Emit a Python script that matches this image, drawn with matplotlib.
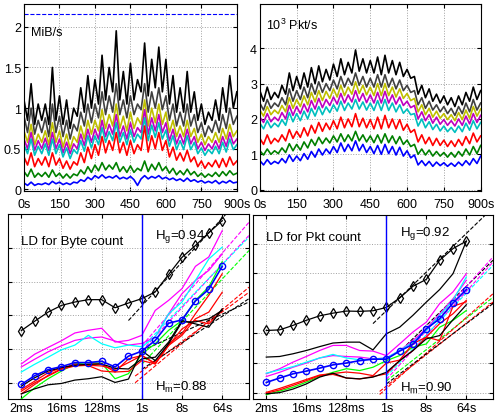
import matplotlib
matplotlib.use("Agg")
import matplotlib.pyplot as plt
import numpy as np

plt.rcParams['font.family'] = ['Liberation Sans', 'DejaVu Sans']
plt.rcParams['mathtext.fontset'] = 'custom'
plt.rcParams['mathtext.rm'] = 'Liberation Sans'
plt.rcParams['mathtext.it'] = 'Liberation Sans:italic'

# ---- time series, one sample every 15 s ----
t = list(range(0, 901, 15))

# MiB/s
black_b = [1.10, 0.85, 1.30, 0.80, 1.05, 0.85, 1.05, 0.80, 1.50, 0.85,
           1.15, 0.80, 1.10, 0.75, 1.00, 0.90, 1.25, 0.95, 1.40, 1.00,
           1.35, 1.05, 1.65, 1.10, 1.50, 1.20, 1.95, 1.10, 1.45, 1.05,
           1.55, 1.10, 1.35, 1.20, 1.80, 1.15, 1.60, 1.25, 1.75, 1.20,
           1.60, 1.05, 1.40, 0.95, 1.25, 0.95, 1.45, 0.95, 1.20, 0.85,
           1.05, 0.80, 0.95, 0.85, 1.10, 0.85, 1.25, 0.95, 1.40, 1.00,
           1.20]
gray_b = [0.90, 0.70, 1.00, 0.68, 0.85, 0.70, 0.88, 0.65, 1.05, 0.70,
          0.90, 0.65, 0.85, 0.62, 0.80, 0.72, 0.95, 0.78, 1.05, 0.82,
          1.05, 0.88, 1.20, 0.92, 1.15, 0.95, 1.30, 0.92, 1.10, 0.88,
          1.15, 0.92, 1.05, 0.98, 1.30, 0.95, 1.20, 1.00, 1.25, 0.98,
          1.15, 0.85, 1.05, 0.78, 0.95, 0.78, 1.05, 0.78, 0.92, 0.70,
          0.82, 0.65, 0.78, 0.70, 0.85, 0.70, 0.92, 0.75, 1.00, 0.80,
          0.90]
yellow_b = [0.72, 0.58, 0.80, 0.55, 0.68, 0.58, 0.72, 0.55, 0.82, 0.58,
            0.72, 0.52, 0.68, 0.50, 0.65, 0.58, 0.78, 0.62, 0.85, 0.68,
            0.85, 0.72, 0.98, 0.75, 0.92, 0.78, 1.05, 0.75, 0.90, 0.72,
            0.95, 0.75, 0.88, 0.80, 1.10, 0.78, 1.00, 0.82, 1.05, 0.80,
            0.95, 0.70, 0.85, 0.65, 0.78, 0.65, 0.85, 0.65, 0.75, 0.58,
            0.68, 0.55, 0.65, 0.58, 0.70, 0.58, 0.75, 0.62, 0.80, 0.65,
            0.72]
magenta_b = [0.62, 0.50, 0.70, 0.48, 0.60, 0.50, 0.63, 0.48, 0.70, 0.50,
             0.62, 0.45, 0.58, 0.44, 0.56, 0.50, 0.68, 0.54, 0.74, 0.58,
             0.74, 0.62, 0.85, 0.65, 0.80, 0.68, 0.92, 0.65, 0.78, 0.62,
             0.82, 0.65, 0.76, 0.70, 0.98, 0.68, 0.88, 0.72, 0.92, 0.70,
             0.82, 0.60, 0.74, 0.56, 0.68, 0.56, 0.74, 0.56, 0.65, 0.50,
             0.58, 0.48, 0.56, 0.50, 0.60, 0.50, 0.65, 0.53, 0.70, 0.56,
             0.62]
cyan_b = [0.55, 0.44, 0.62, 0.42, 0.53, 0.44, 0.56, 0.42, 0.62, 0.44,
          0.55, 0.40, 0.51, 0.38, 0.49, 0.44, 0.60, 0.47, 0.66, 0.51,
          0.66, 0.55, 0.76, 0.58, 0.71, 0.60, 0.82, 0.58, 0.70, 0.55,
          0.73, 0.58, 0.68, 0.62, 0.88, 0.60, 0.79, 0.64, 0.82, 0.62,
          0.73, 0.53, 0.66, 0.49, 0.60, 0.49, 0.66, 0.49, 0.58, 0.44,
          0.51, 0.42, 0.49, 0.44, 0.53, 0.44, 0.58, 0.46, 0.62, 0.49,
          0.55]
red_b = [0.40, 0.30, 0.45, 0.28, 0.38, 0.30, 0.40, 0.28, 0.45, 0.30,
         0.38, 0.26, 0.35, 0.25, 0.34, 0.30, 0.45, 0.33, 0.52, 0.38,
         0.55, 0.42, 0.65, 0.45, 0.60, 0.48, 0.70, 0.45, 0.58, 0.42,
         0.60, 0.44, 0.55, 0.48, 0.78, 0.46, 0.66, 0.50, 0.70, 0.48,
         0.60, 0.40, 0.52, 0.36, 0.45, 0.35, 0.48, 0.34, 0.40, 0.28,
         0.35, 0.26, 0.33, 0.28, 0.36, 0.27, 0.38, 0.28, 0.40, 0.30,
         0.35]
green_b = [0.22, 0.16, 0.25, 0.15, 0.20, 0.16, 0.21, 0.15, 0.24, 0.16,
           0.20, 0.14, 0.19, 0.14, 0.19, 0.17, 0.24, 0.19, 0.28, 0.21,
           0.30, 0.23, 0.33, 0.24, 0.30, 0.25, 0.33, 0.22, 0.28, 0.21,
           0.29, 0.21, 0.26, 0.23, 0.35, 0.22, 0.31, 0.24, 0.33, 0.23,
           0.28, 0.20, 0.26, 0.18, 0.23, 0.18, 0.25, 0.18, 0.22, 0.16,
           0.20, 0.15, 0.19, 0.16, 0.21, 0.16, 0.22, 0.17, 0.23, 0.18,
           0.20]
blue_b = [0.08, 0.05, 0.09, 0.05, 0.07, 0.06, 0.08, 0.06, 0.10, 0.07,
          0.09, 0.06, 0.08, 0.06, 0.09, 0.08, 0.12, 0.10, 0.15, 0.12,
          0.17, 0.14, 0.18, 0.14, 0.16, 0.14, 0.17, 0.13, 0.15, 0.13,
          0.16, 0.12, 0.05, 0.13, 0.17, 0.13, 0.16, 0.14, 0.17, 0.13,
          0.15, 0.12, 0.14, 0.11, 0.13, 0.10, 0.14, 0.10, 0.12, 0.09,
          0.11, 0.08, 0.10, 0.08, 0.11, 0.07, 0.10, 0.08, 0.11, 0.08,
          0.09]
capacity_b = 2.156

# 10^3 Pkt/s
black_p = [2.80, 2.50, 2.90, 2.55, 2.75, 2.60, 2.95, 2.70, 3.30, 2.80,
           3.20, 2.85, 3.30, 2.90, 3.45, 3.00, 3.50, 3.05, 3.40, 3.10,
           3.55, 3.20, 3.70, 3.25, 3.60, 3.30, 3.95, 3.35, 3.70, 3.30,
           3.65, 3.30, 3.75, 3.25, 3.80, 3.30, 3.65, 3.25, 3.60, 3.20,
           3.40, 3.15, 3.20, 2.70, 2.95, 2.60, 2.85, 2.50, 2.70, 2.45,
           2.65, 2.40, 2.60, 2.35, 2.65, 2.40, 2.75, 2.50, 2.90, 2.55,
           2.80]
gray_p = [2.45, 2.25, 2.55, 2.30, 2.45, 2.35, 2.60, 2.40, 2.85, 2.50,
          2.80, 2.55, 2.90, 2.60, 3.00, 2.70, 3.05, 2.75, 3.00, 2.80,
          3.10, 2.85, 3.20, 2.90, 3.15, 2.95, 3.30, 2.95, 3.20, 2.90,
          3.15, 2.90, 3.25, 2.90, 3.25, 2.90, 3.15, 2.85, 3.10, 2.80,
          2.95, 2.75, 2.80, 2.40, 2.60, 2.30, 2.50, 2.25, 2.40, 2.20,
          2.35, 2.15, 2.30, 2.10, 2.35, 2.15, 2.45, 2.20, 2.55, 2.25,
          2.45]
yellow_p = [2.25, 2.08, 2.35, 2.12, 2.25, 2.15, 2.38, 2.20, 2.60, 2.30,
            2.55, 2.35, 2.65, 2.40, 2.75, 2.48, 2.80, 2.52, 2.78, 2.58,
            2.85, 2.62, 2.95, 2.66, 2.90, 2.70, 3.05, 2.72, 2.95, 2.68,
            2.90, 2.66, 3.00, 2.66, 3.00, 2.66, 2.90, 2.62, 2.85, 2.58,
            2.72, 2.52, 2.58, 2.20, 2.40, 2.12, 2.30, 2.05, 2.22, 2.02,
            2.15, 1.98, 2.12, 1.95, 2.18, 1.98, 2.25, 2.02, 2.35, 2.08,
            2.28]
magenta_p = [2.05, 1.90, 2.15, 1.92, 2.05, 1.95, 2.18, 2.00, 2.38, 2.10,
             2.35, 2.15, 2.42, 2.20, 2.52, 2.28, 2.58, 2.32, 2.55, 2.38,
             2.62, 2.42, 2.72, 2.45, 2.68, 2.48, 2.80, 2.50, 2.72, 2.46,
             2.68, 2.45, 2.75, 2.45, 2.78, 2.45, 2.68, 2.42, 2.62, 2.38,
             2.50, 2.32, 2.38, 2.00, 2.20, 1.95, 2.12, 1.88, 2.05, 1.85,
             1.98, 1.82, 1.95, 1.80, 2.00, 1.82, 2.08, 1.86, 2.15, 1.90,
             2.10]
cyan_p = [1.88, 1.72, 1.95, 1.75, 1.88, 1.78, 1.98, 1.82, 2.18, 1.92,
          2.15, 1.95, 2.22, 2.00, 2.30, 2.08, 2.35, 2.12, 2.34, 2.18,
          2.40, 2.22, 2.50, 2.24, 2.45, 2.28, 2.55, 2.28, 2.48, 2.25,
          2.45, 2.24, 2.52, 2.24, 2.55, 2.24, 2.45, 2.20, 2.40, 2.16,
          2.28, 2.12, 2.15, 1.80, 2.00, 1.75, 1.92, 1.70, 1.85, 1.66,
          1.80, 1.64, 1.76, 1.62, 1.80, 1.64, 1.88, 1.68, 1.95, 1.72,
          1.90]
red_p = [1.45, 1.28, 1.55, 1.30, 1.45, 1.35, 1.55, 1.38, 1.70, 1.45,
         1.65, 1.48, 1.75, 1.52, 1.82, 1.60, 1.90, 1.65, 1.88, 1.70,
         1.95, 1.72, 2.05, 1.75, 2.00, 1.78, 2.15, 1.78, 2.02, 1.75,
         1.98, 1.72, 2.05, 1.72, 2.10, 1.75, 2.00, 1.72, 1.98, 1.68,
         1.85, 1.62, 1.70, 1.35, 1.55, 1.30, 1.48, 1.25, 1.45, 1.25,
         1.40, 1.22, 1.38, 1.22, 1.42, 1.25, 1.50, 1.30, 1.60, 1.35,
         1.52]
green_p = [1.10, 0.98, 1.15, 1.00, 1.10, 1.02, 1.18, 1.05, 1.30, 1.10,
           1.28, 1.12, 1.35, 1.18, 1.42, 1.25, 1.48, 1.30, 1.46, 1.32,
           1.52, 1.35, 1.58, 1.36, 1.55, 1.38, 1.65, 1.38, 1.55, 1.35,
           1.52, 1.33, 1.55, 1.32, 1.58, 1.33, 1.52, 1.30, 1.50, 1.28,
           1.40, 1.22, 1.28, 1.00, 1.15, 0.98, 1.12, 0.95, 1.08, 0.95,
           1.05, 0.92, 1.05, 0.92, 1.08, 0.95, 1.15, 0.98, 1.22, 1.02,
           1.25]
blue_p = [0.82, 0.70, 0.85, 0.72, 0.80, 0.74, 0.88, 0.76, 0.98, 0.80,
          0.95, 0.82, 1.02, 0.86, 1.08, 0.92, 1.15, 0.98, 1.15, 1.02,
          1.22, 1.05, 1.32, 1.08, 1.28, 1.10, 1.38, 1.10, 1.28, 1.05,
          1.22, 1.02, 1.25, 1.00, 1.28, 1.02, 1.22, 0.98, 1.20, 0.95,
          1.10, 0.90, 0.98, 0.70, 0.82, 0.68, 0.80, 0.66, 0.78, 0.68,
          0.76, 0.66, 0.75, 0.66, 0.78, 0.68, 0.82, 0.70, 0.88, 0.74,
          0.95]

ts_colors = ['#000000', '#404040', '#bfbf00', '#bf00bf', '#00bfbf', '#ff0000', '#008000', '#0000ff']

# ---- logscale diagrams, octave j = 1 (2ms) .. 16 (64s) ----
octaves = list(range(1, 17))
oct_ticks = [1, 4, 7, 10, 13, 16]
oct_labels = ['2ms', '16ms', '128ms', '1s', '8s', '64s']

ld_b_global = [2.55, 2.83, 3.10, 3.30, 3.40, 3.47, 3.47, 3.23, 3.37, 3.50, 3.70, 4.22, 4.73, 5.08, 5.46, 5.82]
ld_b_mean = [0.95, 1.21, 1.39, 1.48, 1.60, 1.60, 1.64, 1.47, 1.79, 1.94, 2.26, 2.77, 2.87, 3.43, 3.78, 4.46]
ld_b_lines = {
    '#ff00ff': [[1.56, 1.85, 2.05, 2.25, 2.48, 2.56, 2.62, 2.21, 2.26, 2.41, 3.15, 3.45, 3.80, 4.46, 4.74, 5.52],
                [1.47, 1.70, 1.92, 2.10, 2.26, 2.33, 2.36, 2.24, 2.12, 2.17, 2.36, 3.05, 3.65, 4.04, 4.34, 4.83]],
    '#00ffff': [[1.32, 1.55, 1.76, 1.98, 2.12, 2.41, 2.16, 2.04, 2.12, 2.07, 2.36, 3.05, 3.40, 4.04, 4.68, 5.03]],
    '#00ff00': [[0.52, 0.85, 1.12, 1.35, 1.56, 1.60, 1.58, 1.12, 1.27, 1.86, 2.16, 2.56, 2.85, 3.45, 3.85, 4.60]],
    '#ff0000': [[0.67, 0.95, 1.22, 1.42, 1.56, 1.51, 1.35, 1.32, 1.34, 1.66, 1.56, 2.16, 2.46, 3.05, 3.60, 4.24],
                [0.80, 1.05, 1.30, 1.45, 1.51, 1.55, 1.56, 1.32, 1.71, 1.81, 1.58, 2.11, 2.41, 2.90, 3.10, 3.69],
                [0.75, 1.00, 1.20, 1.40, 1.50, 1.52, 1.50, 1.40, 1.60, 1.81, 1.56, 2.11, 2.60, 2.85, 2.75, 3.15]],
    '#000000': [[0.67, 0.82, 0.94, 0.98, 1.08, 1.12, 1.18, 1.01, 1.11, 1.95, 1.66, 2.16, 2.81, 2.81, 2.90, 3.15],
                [0.90, 1.15, 1.35, 1.45, 1.52, 1.55, 1.56, 1.43, 1.41, 1.71, 1.76, 2.21, 2.85, 2.75, 2.65, 3.20]],
}
# dashed fits: (colour, j0, y0, j1, y1)
fit_b = [('#000000', 9.0, 2.85, 16.6, 6.15),
         ('#ff00ff', 10.0, 2.10, 18.0, 5.77),
         ('#ff00ff', 10.0, 1.95, 18.0, 5.38),
         ('#00ffff', 10.0, 2.05, 18.0, 5.33),
         ('#00ff00', 10.0, 1.55, 18.0, 4.93),
         ('#ff0000', 9.5, 1.00, 18.0, 3.84),
         ('#ff0000', 9.5, 1.20, 18.0, 3.69),
         ('#000000', 10.0, 1.95, 18.0, 3.40),
         ('#000000', 10.0, 1.40, 18.0, 3.50)]
hg_b, hm_b = 0.94, 0.88

ld_p_global = [3.09, 3.11, 3.26, 3.43, 3.58, 3.67, 3.74, 3.73, 3.75, 3.86, 4.18, 4.57, 4.80, 5.44, 5.83, 6.08]
ld_p_mean = [1.35, 1.50, 1.64, 1.73, 1.83, 1.94, 2.00, 2.08, 2.13, 2.13, 2.40, 2.63, 3.15, 3.48, 4.01, 4.46]
ld_p_lines = {
    '#ff00ff': [[1.64, 1.81, 2.03, 2.22, 2.42, 2.59, 2.59, 2.42, 2.40, 2.25, 2.64, 3.04, 3.37, 3.99, 4.38, 4.99],
                [1.55, 1.69, 1.86, 2.00, 2.17, 2.25, 2.22, 2.20, 2.14, 2.17, 2.42, 2.76, 3.15, 3.65, 4.15, 4.77]],
    '#00ffff': [[1.66, 1.77, 1.88, 2.03, 2.17, 2.29, 2.17, 2.11, 2.13, 2.17, 2.42, 2.70, 3.09, 3.60, 4.10, 4.88]],
    '#00ff00': [[0.94, 1.06, 1.19, 1.36, 1.55, 1.69, 1.81, 1.75, 1.86, 2.08, 2.25, 2.53, 2.64, 3.20, 3.43, 3.76]],
    '#ff0000': [[0.99, 1.10, 1.25, 1.41, 1.58, 1.62, 1.50, 1.47, 1.55, 1.64, 2.08, 2.42, 2.87, 3.32, 3.65, 4.10],
                [1.02, 1.15, 1.30, 1.45, 1.60, 1.65, 1.70, 1.66, 1.58, 2.00, 2.10, 2.65, 2.87, 2.75, 3.90, 4.05]],
    '#000000': [[2.20, 2.22, 2.31, 2.42, 2.55, 2.67, 2.70, 2.70, 2.44, 2.98, 3.20, 3.60, 4.04, 4.46, 4.99, 6.08],
                [0.97, 1.01, 1.13, 1.30, 1.53, 1.66, 1.50, 1.47, 1.53, 1.69, 2.08, 2.42, 2.81, 2.92, 3.45, 3.95]],
}
fit_p = [('#000000', 9.0, 3.32, 18.0, 7.20),
         ('#000000', 11.5, 2.60, 18.0, 5.44),
         ('#ff00ff', 10.0, 1.60, 18.0, 5.55),
         ('#ff00ff', 10.0, 1.45, 18.0, 5.38),
         ('#00ffff', 10.0, 1.55, 18.0, 5.27),
         ('#00ff00', 10.0, 1.40, 18.0, 4.20),
         ('#ff0000', 9.5, 0.95, 18.0, 4.32),
         ('#ff0000', 9.5, 1.05, 18.0, 4.04),
         ('#000000', 10.0, 1.30, 18.0, 3.99)]
hg_p, hm_p = 0.92, 0.90

fig = plt.figure(figsize=(4.95, 4.14), dpi=100)
ax1 = fig.add_axes([0.0485, 0.536, 0.430, 0.452])
ax2 = fig.add_axes([0.525, 0.536, 0.446, 0.452])
ax3 = fig.add_axes([0.016, 0.034, 0.487, 0.447])
ax4 = fig.add_axes([0.511, 0.034, 0.485, 0.444])


def style(ax):
    ax.grid(True, linestyle=':', color='#a0a0a0', linewidth=0.7)
    ax.tick_params(direction='in', length=3, labelsize=9, top=True, right=True, pad=2)
    for s in ax.spines.values():
        s.set_linewidth(0.8)


series_b = [black_b, gray_b, yellow_b, magenta_b, cyan_b, red_b, green_b, blue_b]
series_p = [black_p, gray_p, yellow_p, magenta_p, cyan_p, red_p, green_p, blue_p]
for ax, series in [(ax1, series_b), (ax2, series_p)]:
    for vals, c in zip(series, ts_colors):
        ax.plot(t, vals, color=c, linewidth=1.2)
    ax.set_xlim(0, 900)
    ax.set_xticks(range(0, 901, 150))
    ax.set_xticklabels(['0s', '150', '300', '450', '600', '750', '900s'])
    style(ax)
    ax.tick_params(axis='x', pad=5)
ax1.axhline(capacity_b, color='#0000ff', linestyle='--', linewidth=0.8)
ax1.set_ylim(-0.02, 2.28)
ax1.set_yticks([0, 0.5, 1, 1.5, 2])
ax1.set_yticklabels(['0', '0.5', '1', '1.5', '2'])
ax1.text(28, 1.93, 'MiB/s', fontsize=9, va='center')
ax2.set_ylim(-0.04, 5.25)
ax2.set_yticks([0, 1, 2, 3, 4])
ax2.text(27, 4.66, '10$^3$ Pkt/s', fontsize=9, va='center')

for ax, glob, mean, lines, fits, hg, hm, title, yl, yt, ypos in [
        (ax3, ld_b_global, ld_b_mean, ld_b_lines, fit_b, hg_b, hm_b, 'LD for Byte count',
         (0.52, 6.02), [1, 2, 3, 4, 5], (5.22, 5.37, 0.89)),
        (ax4, ld_p_global, ld_p_mean, ld_p_lines, fit_p, hg_p, hm_p, 'LD for Pkt count',
         (0.80, 6.95), [1, 2, 3, 4, 5, 6], (6.22, 6.36, 1.19))]:
    for c, j0, y0, j1, y1 in fits:
        ax.plot([j0, j1], [y0, y1], color=c, linestyle='--', linewidth=0.8)
    for c, group in lines.items():
        for vals in group:
            ax.plot(octaves, vals, color=c, linewidth=0.9)
    ax.plot(octaves, glob, color='black', marker='d', markersize=5, markerfacecolor='none',
            markeredgewidth=0.9, linewidth=0.9)
    ax.plot(octaves, mean, color='#0000ff', marker='o', markersize=4.5, markerfacecolor='none',
            markeredgewidth=1.0, linewidth=1.2)
    ax.axvline(10, color='#0000ff', linewidth=1.0)
    ax.set_xlim(0, 18)
    ax.set_ylim(*yl)
    ax.set_xticks(oct_ticks)
    ax.set_xticklabels(oct_labels)
    ax.set_yticks(yt)
    ax.set_yticklabels([])
    style(ax)
    ax.text(1.0, ypos[0], title, fontsize=9.5, va='center')
    ax.text(11.0, ypos[1], 'H$_\\mathrm{g}$=%.2f' % hg, fontsize=9.5, va='center')
    ax.text(11.0, ypos[2], 'H$_\\mathrm{m}$=%.2f' % hm, fontsize=9.5, va='center')

fig.savefig('out.png', dpi=100)
